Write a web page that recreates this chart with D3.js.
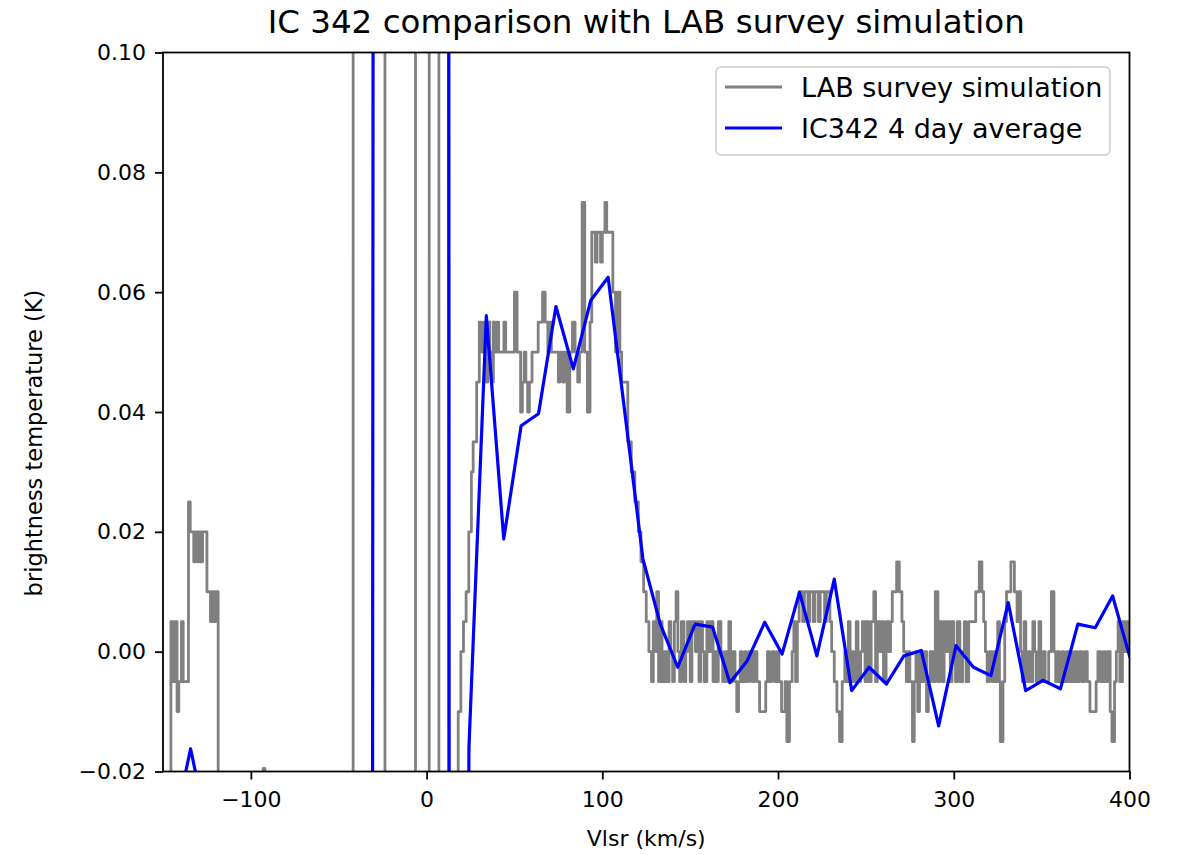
<!DOCTYPE html>
<html>
<head>
<meta charset="utf-8">
<script src="https://cdn.jsdelivr.net/npm/d3@7"></script>
<style>
  body { margin: 0; background: #fff; }
  svg { font-family: "DejaVu Sans", sans-serif; }
</style>
</head>
<body>
<script>
// LAB survey simulation: step starts (km/s) and brightness temperature (K)
const labVel = [
  -150, -145.5, -144, -143, -142, -141, -139.5, -138.5, -135.5, -134.5, -132.5, -131.5, -130.5, -129.5, -128.5, -127.5,
  -125, -123, -122, -121, -120, -118.6, -93, -92, -41.8, -23.7, -6.3, 1.5, 7.0, 12.7,
  18, 19.5, 21, 22.5, 24, 25.5, 26.5, 28.5, 30, 31.5, 32.5, 34, 35, 36, 37, 38, 39, 40, 41, 44, 45, 50, 51.5,
  53.5, 54.5, 55.5, 56.5, 57.5, 58.5, 60, 63.5, 66, 67.5, 69, 70, 71, 72, 75, 76, 77.5, 78.5, 80, 81.5, 83,
  84.5, 86, 87, 88.5, 90, 91.5, 93, 94, 96, 97, 99, 100, 101.5, 102.5, 106, 107.5, 108.5, 110, 111,
  114.5, 116.5, 118.5, 120.5, 122, 123.5, 125, 126.5, 128, 129, 130, 131, 132, 133, 134, 135.5, 136.5,
  138, 139, 140, 141, 142, 143, 144, 145, 146.5, 147.5, 148.5, 150, 151, 153, 154, 155, 156, 157, 158,
  159.5, 160.5, 161.5, 163, 164, 165, 166, 167.5, 168.5, 170, 171, 172, 173, 174, 175.5, 176.5, 177.5,
  178.5, 179.5, 181, 182, 183.5, 185, 186.5, 188, 189.5, 193, 194, 195, 196.5, 198, 199.5, 200.5, 202,
  204, 205, 206.5, 208, 209, 210, 211, 212, 214, 215, 217, 218, 220, 221, 223, 224, 226.5, 227.5, 229.5,
  230.5, 232, 233.5, 235, 236.5, 238, 239, 240, 241, 242, 243, 244.5, 245.5, 247, 248, 249.5, 250.5,
  251.5, 253, 254.5, 255.5, 256.5, 258, 259, 260, 261.5, 263, 264, 265, 267.5, 269, 270.5, 271.5, 273,
  274, 275, 276.5, 277.5, 278.5, 279.5, 280.5, 281.5, 283, 284.5, 285.5, 286.5, 288, 289.5, 291, 292,
  293.5, 294.5, 296, 297, 298, 299, 300, 301, 302, 303.5, 305, 306, 307, 308.5, 310, 312.5, 314.5, 316,
  317, 318, 319, 320.5, 322, 323, 324, 325, 326, 326.5, 328, 329, 330, 332.5, 334.5, 336, 337, 338, 339,
  340, 341, 342.5, 343.5, 345, 346, 347, 348.5, 349.5, 351, 352, 354, 355.5, 357, 358, 359, 360, 361.5,
  362.5, 364, 365, 366.5, 367.5, 369, 370, 371.5, 373, 374.5, 376, 377.5, 381, 382, 383.5, 385, 386,
  387.5, 389, 390, 391.5, 392.5, 393.5, 394.5, 396, 397, 398, 399, 401
];
const labTemp = [
  -0.03, 0.005, -0.005, 0.005, -0.01, -0.005, 0.005, -0.005, 0.025, 0.02, 0.015, 0.02, 0.015, 0.02, 0.015, 0.02,
  0.01, 0.005, 0.01, 0.005, 0.01, -0.03, -0.0195, -0.03, 0.5, -0.5, 0.5, -0.5, 0.5, -0.5,
  -0.01, 0.0, 0.005, 0.01, 0.02, 0.03, 0.035, 0.045, 0.055, 0.05, 0.055, 0.045, 0.055, 0.05, 0.045, 0.055, 0.05, 0.055, 0.05, 0.055, 0.05, 0.06, 0.05,
  0.04, 0.045, 0.05, 0.045, 0.04, 0.045, 0.05, 0.055, 0.06, 0.055, 0.05, 0.055, 0.05, 0.05, 0.045, 0.05, 0.045, 0.05, 0.04, 0.05, 0.055,
  0.05, 0.045, 0.05, 0.075, 0.05, 0.04, 0.055, 0.07, 0.065, 0.07, 0.065, 0.07, 0.075, 0.07, 0.06, 0.05, 0.06, 0.05, 0.045,
  0.035, 0.03, 0.025, 0.02, 0.015, 0.01, 0.005, 0.0, -0.005, 0.005, 0.0, 0.01, -0.005, 0.005, -0.005, 0.0, -0.005,
  0.005, 0.0, -0.005, 0.005, 0.01, 0.0, -0.005, 0.005, -0.005, 0.0, 0.005, -0.005, 0.005, 0.0, 0.005, -0.005, 0.005, 0.0, -0.005,
  0.005, 0.0, 0.005, -0.005, 0.0, -0.005, 0.005, 0.0, -0.005, 0.0, -0.005, 0.005, -0.005, 0.0, -0.005, -0.01, -0.005,
  0.0, -0.005, 0.0, -0.005, 0.0, -0.005, 0.0, -0.005, -0.01, -0.005, 0.0, -0.005, 0.0, -0.005, 0.0, -0.005, -0.01,
  -0.005, -0.015, -0.005, 0.0, 0.005, -0.005, 0.005, 0.01, 0.005, 0.01, 0.005, 0.01, 0.005, 0.01, 0.005, 0.01, 0.005, 0.01, 0.005,
  0.0, -0.005, -0.01, -0.015, -0.005, 0.0, -0.005, 0.005, -0.005, 0.0, -0.005, 0.005, -0.005, 0.0, 0.005, -0.005, 0.005,
  -0.005, 0.005, 0.01, -0.005, 0.005, 0.0, 0.005, -0.005, 0.005, 0.0, 0.005, 0.01, 0.015, 0.01, 0.005, 0.0, -0.005,
  0.0, -0.005, -0.015, -0.005, 0.0, -0.01, 0.0, -0.005, 0.0, -0.01, -0.005, 0.0, -0.005, 0.01, -0.005, 0.005,
  -0.005, 0.005, 0.0, 0.005, -0.005, 0.005, 0.0, -0.005, 0.005, -0.005, 0.0, 0.005, -0.005, 0.005, 0.005, 0.01, 0.015, 0.01,
  0.005, 0.0, -0.005, 0.0, -0.005, 0.0, -0.005, 0.005, -0.005, -0.015, -0.005, 0.005, 0.01, 0.015, 0.01, 0.005, 0.01, 0.0, -0.005,
  0.005, -0.005, 0.0, -0.005, 0.005, 0.0, -0.005, 0.005, -0.005, 0.0, -0.005, 0.0, 0.01, 0.0, -0.005, 0.0, -0.005, 0.0,
  -0.005, 0.0, -0.005, 0.0, -0.005, 0.0, -0.005, 0.0, -0.005, 0.0, -0.005, -0.01, -0.005, 0.0, -0.005, 0.0, -0.005,
  0.0, -0.01, -0.015, -0.005, 0.0, 0.005, -0.005, 0.005, 0.0, 0.005, 0.0, 0.0
];

// IC342 4 day average
const icVel = [
  -154.1, -144.2, -134.3, -124.4, -114.5, -104.6, -94.7, -84.8, -74.9, -65.0, -55.1, -45.2, -35.3, -25.4,
  -15.5, -5.6, 4.3, 14.2, 24.1, 34.0, 43.9, 53.8, 63.7, 73.6, 83.5, 93.4, 103.3, 113.2, 123.1, 133.0,
  142.9, 152.8, 162.7, 172.6, 182.5, 192.4, 202.3, 212.2, 222.1, 232.0, 241.9, 251.8, 261.7, 271.6,
  281.5, 291.4, 301.3, 311.2, 321.1, 331.0, 340.9, 350.8, 360.7, 370.6, 380.5, 390.4, 400.3
];
const icTemp = [
  -0.045, -0.030, -0.0162, -0.030, -0.032, -0.035, -0.04, -0.05, -0.07, -0.1, -0.2, -0.6, -2.0, 2.3,
  4.0, 6.0, 5.0, -0.85, -0.016, 0.0561, 0.0188, 0.0377, 0.0397, 0.0576, 0.0472, 0.0586, 0.0625, 0.039, 0.0155, 0.0046,
  -0.0026, 0.0046, 0.0041, -0.0052, -0.0015, 0.0049, -0.0004, 0.0099, -0.0007, 0.0121, -0.0065, -0.0026, -0.0054, -0.0007,
  0.0002, -0.0124, 0.001, -0.0026, -0.004, 0.0082, -0.0065, -0.0048, -0.0062, 0.0046, 0.004, 0.0093, -0.001
];

const xTicks = [-100, 0, 100, 200, 300, 400];
const yTicks = [-0.02, 0.00, 0.02, 0.04, 0.06, 0.08, 0.10];
const seriesNames = ['LAB survey simulation', 'IC342 4 day average'];
const seriesColors = ['gray', 'blue'];

const W = 1178, H = 855;
const margin = { top: 52.5, right: 48.5, bottom: 83.5, left: 163 };
const width = W - margin.left - margin.right;
const height = H - margin.top - margin.bottom;

const svg = d3.select('body').append('svg')
    .attr('width', W)
    .attr('height', H);

const g = svg.append('g')
    .attr('transform', `translate(${margin.left}, ${margin.top})`);

const xScale = d3.scaleLinear().domain([-150, 400]).range([0, width]);
const yScale = d3.scaleLinear().domain([-0.02, 0.10]).range([height, 0]);

g.append('clipPath')
    .attr('id', 'plot-clip')
  .append('rect')
    .attr('width', width)
    .attr('height', height);

const lab = labVel.map((v, i) => ({ v, t: labTemp[i] }));
const ic = icVel.map((v, i) => ({ v, t: icTemp[i] }));

const labLine = d3.line()
    .x(d => xScale(d.v))
    .y(d => yScale(d.t))
    .curve(d3.curveStepAfter);

const icLine = d3.line()
    .x(d => xScale(d.v))
    .y(d => yScale(d.t));

const plot = g.append('g').attr('clip-path', 'url(#plot-clip)');

plot.append('path')
    .datum(lab)
    .attr('fill', 'none')
    .attr('stroke', seriesColors[0])
    .attr('stroke-width', 2.8)
    .attr('stroke-linejoin', 'round')
    .attr('d', labLine);

plot.append('path')
    .datum(ic)
    .attr('fill', 'none')
    .attr('stroke', seriesColors[1])
    .attr('stroke-width', 3.2)
    .attr('stroke-linejoin', 'round')
    .attr('d', icLine);

// axes
const xAxis = d3.axisBottom(xScale)
    .tickValues(xTicks)
    .tickSize(8)
    .tickPadding(12)
    .tickFormat(d3.format('d'));

const yAxis = d3.axisLeft(yScale)
    .tickValues(yTicks)
    .tickSize(8)
    .tickPadding(9)
    .tickFormat(d3.format('.2f'));

const gx = g.append('g')
    .attr('transform', `translate(0, ${height})`)
    .call(xAxis);
const gy = g.append('g').call(yAxis);

[gx, gy].forEach(ax => {
  ax.select('.domain').remove();
  ax.selectAll('.tick line').attr('stroke', '#000').attr('stroke-width', 1.8);
  ax.selectAll('.tick text')
      .attr('fill', '#000')
      .style('font-size', '22px')
      .style('font-family', '"DejaVu Sans", sans-serif');
});

// frame
g.append('rect')
    .attr('width', width)
    .attr('height', height)
    .attr('fill', 'none')
    .attr('stroke', '#000')
    .attr('stroke-width', 1.8);

// title and axis labels
svg.append('text')
    .attr('x', margin.left + width / 2)
    .attr('y', 33)
    .attr('text-anchor', 'middle')
    .style('font-size', '32.5px')
    .text('IC 342 comparison with LAB survey simulation');

svg.append('text')
    .attr('x', margin.left + width / 2)
    .attr('y', 846)
    .attr('text-anchor', 'middle')
    .style('font-size', '22px')
    .text('Vlsr (km/s)');

svg.append('text')
    .attr('transform', 'translate(42, 443) rotate(-90)')
    .attr('text-anchor', 'middle')
    .style('font-size', '22.5px')
    .text('brightness temperature (K)');

// legend
const legend = svg.append('g').attr('transform', 'translate(716, 67)');
legend.append('rect')
    .attr('width', 394)
    .attr('height', 88)
    .attr('rx', 5)
    .attr('fill', 'rgba(255,255,255,0.8)')
    .attr('stroke', '#cccccc')
    .attr('stroke-width', 1.5);

seriesNames.forEach((name, i) => {
  const row = legend.append('g').attr('transform', `translate(0, ${20 + i * 41})`);
  row.append('line')
      .attr('x1', 9).attr('x2', 66)
      .attr('stroke', seriesColors[i])
      .attr('stroke-width', 3);
  row.append('text')
      .attr('x', 85)
      .attr('y', 10)
      .style('font-size', '27px')
      .text(name);
});
</script>
</body>
</html>
